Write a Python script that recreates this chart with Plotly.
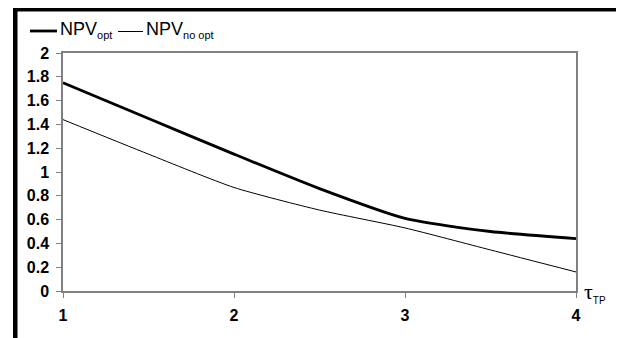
import plotly.graph_objects as go

x_vals = [1, 1.5, 2, 2.5, 3, 3.5, 4]
npv_opt = [1.75, 1.45, 1.15, 0.86, 0.61, 0.50, 0.44]
npv_no_opt = [1.44, 1.15, 0.87, 0.68, 0.53, 0.345, 0.16]
y_ticks = [0, 0.2, 0.4, 0.6, 0.8, 1, 1.2, 1.4, 1.6, 1.8, 2]
y_labels = ["0", "0.2", "0.4", "0.6", "0.8", "1", "1.2", "1.4", "1.6", "1.8", "2"]
x_ticks = [1, 2, 3, 4]
legend_names = ["NPV<sub><span style='font-size:11px'>opt</span></sub>",
                "NPV<sub><span style='font-size:11px'>no opt</span></sub>"]

# page body has an 8px margin, so work in page pixels and shift by 8
OFF = 8
W, H = 624 - OFF, 338 - OFF
L, R, T, B = 63 - OFF, 576 - OFF, 53 - OFF, 291 - OFF

def px(x):  # page pixel -> paper x
    return (x - OFF - L) / (R - L)

def py(y):  # page pixel -> paper y
    return (B - (y - OFF)) / (B - T)

fig = go.Figure()
fig.add_trace(go.Scatter(x=x_vals, y=npv_opt, mode="lines", name="NPV opt",
                         line=dict(color="black", width=2.8, shape="spline", smoothing=0.6)))
fig.add_trace(go.Scatter(x=x_vals, y=npv_no_opt, mode="lines", name="NPV no opt",
                         line=dict(color="black", width=1, shape="spline", smoothing=0.6)))

axis_common = dict(showline=True, linecolor="#808080", linewidth=1.5, mirror=True,
                   ticks="outside", ticklen=5, tickcolor="#808080", showgrid=False, zeroline=False,
                   tickfont=dict(family="Liberation Sans, Arial", size=16, color="black", weight="bold"))

fig.update_xaxes(range=[1, 4], tickvals=x_ticks, ticklabelstandoff=4, **axis_common)
fig.update_yaxes(range=[0, 2], tickvals=y_ticks, ticktext=y_labels, ticklabelstandoff=4, **axis_common)

shapes = [
    dict(type="rect", xref="paper", yref="paper", x0=px(13), x1=px(624), y0=py(8), y1=py(11.5),
         fillcolor="black", line=dict(width=0)),
    dict(type="rect", xref="paper", yref="paper", x0=px(13), x1=px(17.5), y0=py(8), y1=py(338),
         fillcolor="black", line=dict(width=0)),
    dict(type="rect", xref="paper", yref="paper", x0=px(622.5), x1=px(624), y0=py(8), y1=py(338),
         fillcolor="black", line=dict(width=0)),
    # legend samples
    dict(type="line", xref="paper", yref="paper", x0=px(30), x1=px(57), y0=py(31), y1=py(31),
         line=dict(color="black", width=2.8)),
    dict(type="line", xref="paper", yref="paper", x0=px(118), x1=px(143), y0=py(31.5), y1=py(31.5),
         line=dict(color="black", width=1)),
]

leg_font = dict(family="Liberation Sans, Arial", size=18, color="black")
fig.add_annotation(x=px(58), y=py(30), xref="paper", yref="paper", xanchor="left", yanchor="middle",
                   text=legend_names[0], showarrow=False, font=leg_font)
fig.add_annotation(x=px(144), y=py(30), xref="paper", yref="paper", xanchor="left", yanchor="middle",
                   text=legend_names[1], showarrow=False, font=leg_font)

fig.add_annotation(x=px(582), y=py(292), xref="paper", yref="paper", xanchor="left", yanchor="middle",
                   text="τ<sub><span style='font-family:Liberation Sans;font-size:10px'>TP</span></sub>",
                   showarrow=False,
                   font=dict(family="Liberation Serif, Times New Roman", size=22, color="black"))

fig.update_layout(
    width=W, height=H,
    margin=dict(l=L, r=W - R, t=T, b=H - B, autoexpand=False),
    paper_bgcolor="white", plot_bgcolor="white",
    shapes=shapes,
    showlegend=False,
)

fig.write_html("out.html")
